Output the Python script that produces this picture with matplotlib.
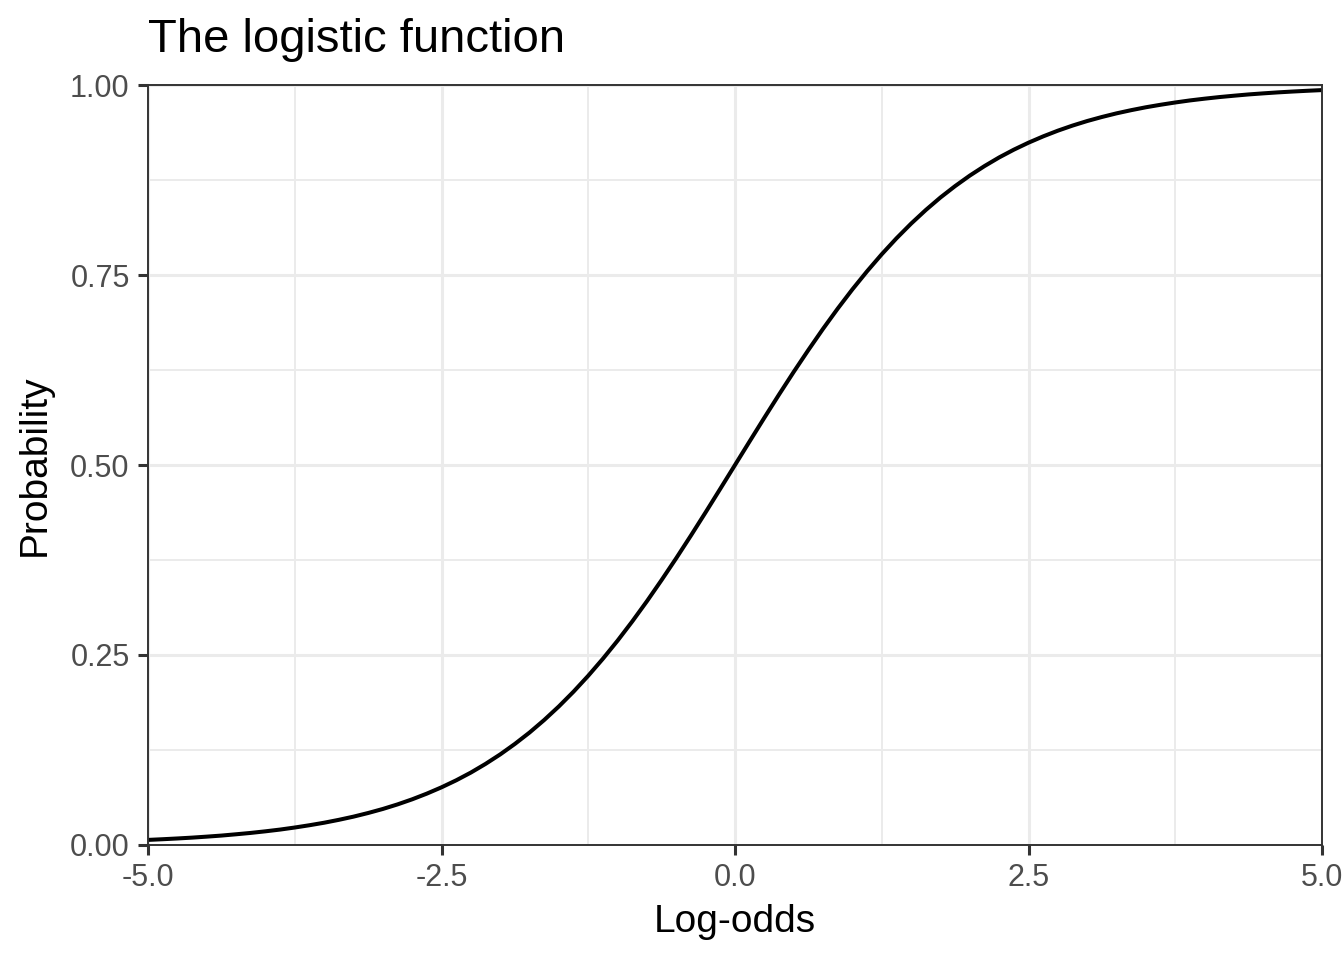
import matplotlib
matplotlib.use('Agg')
import matplotlib.pyplot as plt

# Values (left half, then right half)
log_odds = [-5.000, -4.875, -4.750, -4.625, -4.500, -4.375, -4.250, -4.125,
            -4.000, -3.875, -3.750, -3.625, -3.500, -3.375, -3.250, -3.125,
            -3.000, -2.875, -2.750, -2.625, -2.500, -2.375, -2.250, -2.125,
            -2.000, -1.875, -1.750, -1.625, -1.500, -1.375, -1.250, -1.125,
            -1.000, -0.875, -0.750, -0.625, -0.500, -0.375, -0.250, -0.125,
            0.000,
            0.125, 0.250, 0.375, 0.500, 0.625, 0.750, 0.875, 1.000,
            1.125, 1.250, 1.375, 1.500, 1.625, 1.750, 1.875, 2.000,
            2.125, 2.250, 2.375, 2.500, 2.625, 2.750, 2.875, 3.000,
            3.125, 3.250, 3.375, 3.500, 3.625, 3.750, 3.875, 4.000,
            4.125, 4.250, 4.375, 4.500, 4.625, 4.750, 4.875, 5.000]
probability = [0.0067, 0.0076, 0.0086, 0.0097, 0.0110, 0.0124, 0.0141, 0.0159,
               0.0180, 0.0203, 0.0230, 0.0260, 0.0293, 0.0331, 0.0373, 0.0421,
               0.0474, 0.0534, 0.0601, 0.0676, 0.0759, 0.0851, 0.0953, 0.1067,
               0.1192, 0.1330, 0.1480, 0.1645, 0.1824, 0.2018, 0.2227, 0.2451,
               0.2689, 0.2942, 0.3208, 0.3487, 0.3775, 0.4073, 0.4378, 0.4688,
               0.5000,
               0.5312, 0.5622, 0.5927, 0.6225, 0.6513, 0.6792, 0.7058, 0.7311,
               0.7549, 0.7773, 0.7982, 0.8176, 0.8355, 0.8520, 0.8670, 0.8808,
               0.8933, 0.9047, 0.9149, 0.9241, 0.9324, 0.9399, 0.9466, 0.9526,
               0.9579, 0.9627, 0.9669, 0.9707, 0.9740, 0.9770, 0.9797, 0.9820,
               0.9841, 0.9859, 0.9876, 0.9890, 0.9903, 0.9914, 0.9924, 0.9933]

x_ticks = [-5.0, -2.5, 0.0, 2.5, 5.0]
x_tick_labels = ['-5.0', '-2.5', '0.0', '2.5', '5.0']
x_minor = [-3.75, -1.25, 1.25, 3.75]
y_ticks = [0.0, 0.25, 0.5, 0.75, 1.0]
y_tick_labels = ['0.00', '0.25', '0.50', '0.75', '1.00']
y_minor = [0.125, 0.375, 0.625, 0.875]

plt.rcParams['font.family'] = ['Liberation Sans', 'DejaVu Sans']

fig = plt.figure(figsize=(13.44, 9.6), dpi=100)
ax = fig.add_axes([148 / 1344, 1 - 845 / 960, (1322 - 148) / 1344, (845 - 85) / 960])

# grid lines (theme_bw style)
for v in x_minor:
    ax.axvline(v, color='#EBEBEB', linewidth=1.4, zorder=0)
for v in y_minor:
    ax.axhline(v, color='#EBEBEB', linewidth=1.4, zorder=0)
for v in x_ticks:
    ax.axvline(v, color='#EBEBEB', linewidth=2.2, zorder=0)
for v in y_ticks:
    ax.axhline(v, color='#EBEBEB', linewidth=2.2, zorder=0)

ax.plot(log_odds, probability, color='black', linewidth=2.9,
        solid_joinstyle='round', solid_capstyle='butt', zorder=3)

ax.set_xlim(-5, 5)
ax.set_ylim(0, 1)
ax.set_xticks(x_ticks)
ax.set_xticklabels(x_tick_labels)
ax.set_yticks(y_ticks)
ax.set_yticklabels(y_tick_labels)

ax.tick_params(axis='both', direction='out', length=7.2, width=2.2,
               color='#333333', labelcolor='#4D4D4D', labelsize=22, pad=6)

for spine in ax.spines.values():
    spine.set_color('#333333')
    spine.set_linewidth(1.4)
    spine.set_zorder(4)

ax.set_xlabel('Log-odds', fontsize=28, labelpad=8)
ax.set_ylabel('Probability', fontsize=28, labelpad=12)
ax.set_title('The logistic function', fontsize=34, loc='left', pad=24)

fig.savefig('out.png', dpi=100)
